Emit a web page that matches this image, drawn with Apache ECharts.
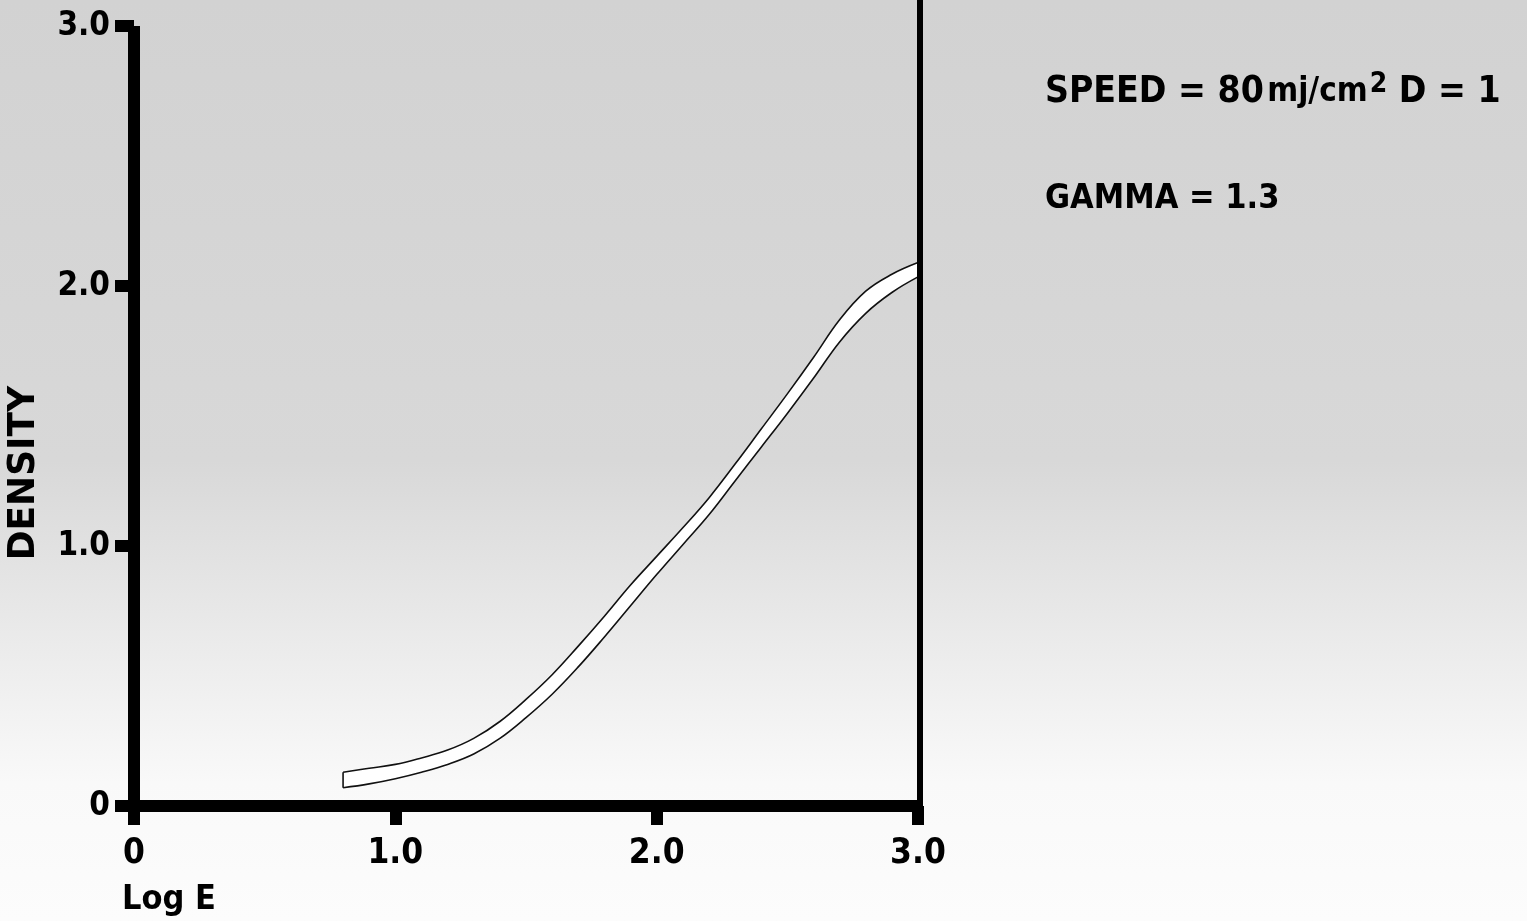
<!DOCTYPE html>
<html>
<head>
<meta charset="utf-8">
<script src="https://cdn.jsdelivr.net/npm/echarts@6/dist/echarts.min.js"></script>
<style>html,body{margin:0;padding:0;background:#fff}#c{width:1527px;height:921px}</style>
</head>
<body>
<div id="c"></div>
<script>
// ---- data ----
const logE = [0.8, 0.9, 1.0, 1.1, 1.2, 1.3, 1.4, 1.5, 1.6, 1.7, 1.8, 1.9, 2.0, 2.1, 2.2, 2.3, 2.4, 2.5, 2.6, 2.7, 2.8, 2.9, 3.0];
const densityUpper = [0.13, 0.145, 0.16, 0.185, 0.215, 0.26, 0.325, 0.41, 0.505, 0.615, 0.73, 0.85, 0.96, 1.07, 1.185, 1.315, 1.45, 1.585, 1.725, 1.87, 1.98, 2.045, 2.09];
const densityLower = [0.07, 0.085, 0.105, 0.13, 0.16, 0.20, 0.26, 0.34, 0.43, 0.535, 0.65, 0.77, 0.89, 1.005, 1.12, 1.25, 1.38, 1.51, 1.645, 1.785, 1.895, 1.975, 2.035];
const xTickLabels = ['0', '1.0', '2.0', '3.0'];
const yTickLabels = ['0', '1.0', '2.0', '3.0'];
const yTitle = 'DENSITY';
const xTitle = 'Log E';
const noteSpeed = 'SPEED = 80';
const noteUnit = 'mj/cm';
const noteExp = '2';
const noteD = 'D = 1';
const noteGamma = 'GAMMA = 1.3';

const FONT = "'DejaVu Sans Condensed', 'Liberation Sans Narrow', sans-serif";
const bgStops = [
  {offset: 0, color: '#d2d2d2'},
  {offset: 0.5, color: '#d8d8d8'},
  {offset: 0.72, color: '#ededed'},
  {offset: 0.85, color: '#f9f9f9'},
  {offset: 1, color: '#fcfcfc'}
];

const upperPts = logE.map((x, i) => [x, densityUpper[i]]);
const lowerPts = logE.map((x, i) => [x, densityLower[i]]);
const capPts = [[logE[0], densityLower[0]], [logE[0], densityUpper[0]]];

const chart = echarts.init(document.getElementById('c'), null, {renderer: 'canvas'});
const option = {
  animation: false,
  backgroundColor: {type: 'linear', x: 0, y: 0, x2: 0, y2: 1, colorStops: bgStops},
  grid: [
    {left: 134, right: 609, top: 26, bottom: 115},
    {left: 134, right: 607, top: 0, bottom: 115}
  ],
  xAxis: [
    {
      type: 'value', gridIndex: 0, min: 0, max: 3, interval: 1, z: 10,
      axisLine: {show: true, onZero: false, lineStyle: {color: '#000', width: 12, cap: 'butt'}},
      axisTick: {show: true, length: 19, lineStyle: {color: '#000', width: 12}},
      splitLine: {show: false},
      axisLabel: {
        margin: 30, color: '#000', fontFamily: FONT, fontWeight: 'bold', fontSize: 35,
        formatter: v => xTickLabels[Math.round(v)]
      }
    },
    {type: 'value', gridIndex: 1, min: 0, max: 3, show: false}
  ],
  yAxis: [
    {
      type: 'value', gridIndex: 0, min: 0, max: 3, interval: 1, z: 10,
      axisLine: {show: true, onZero: false, lineStyle: {color: '#000', width: 12, cap: 'butt'}},
      axisTick: {show: true, length: 19, lineStyle: {color: '#000', width: 12}},
      splitLine: {show: false},
      axisLabel: {
        margin: 24, color: '#000', fontFamily: FONT, fontWeight: 'bold', fontSize: 33,
        formatter: v => yTickLabels[Math.round(v)]
      }
    },
    {
      type: 'value', gridIndex: 1, position: 'right', min: 0, max: 1, z: 10,
      axisLine: {show: true, onZero: false, lineStyle: {color: '#000', width: 6}},
      axisTick: {show: false}, axisLabel: {show: false}, splitLine: {show: false}
    }
  ],
  series: [
    {
      type: 'line', name: 'upper', data: upperPts, smooth: 0.4, symbol: 'none',
      lineStyle: {color: '#111', width: 1.6},
      areaStyle: {color: '#ffffff', opacity: 1}, z: 2
    },
    {
      type: 'line', name: 'lower', data: lowerPts, smooth: 0.4, symbol: 'none',
      lineStyle: {color: '#111', width: 1.6},
      areaStyle: {
        opacity: 1,
        color: {type: 'linear', x: 0, y: 0, x2: 0, y2: 921, global: true, colorStops: bgStops}
      }, z: 3
    },
    {
      type: 'line', name: 'cap', data: capPts, symbol: 'none',
      lineStyle: {color: '#111', width: 1.6}, z: 4
    }
  ],
  graphic: [
    {
      type: 'text', left: 6, top: 386, rotation: Math.PI / 2, scaleX: 1.08,
      style: {text: yTitle, fill: '#000', font: 'bold 37px ' + FONT}
    },
    {
      type: 'text', left: 122, top: 883,
      style: {text: xTitle, fill: '#000', font: 'bold 34px ' + FONT}
    },
    {
      type: 'text', left: 1045, top: 71,
      style: {
        text: '{a|' + noteSpeed + '} {b|' + noteUnit + '}{s|' + noteExp + '}{a| ' + noteD + '}',
        rich: {
          a: {fill: '#000', fontFamily: FONT, fontWeight: 'bold', fontSize: 37},
          b: {fill: '#000', fontFamily: FONT, fontWeight: 'bold', fontSize: 33},
          s: {fill: '#000', fontFamily: FONT, fontWeight: 'bold', fontSize: 28, verticalAlign: 'top', padding: [0, 0, 14, 2]}
        }
      }
    },
    {
      type: 'text', left: 1045, top: 182,
      style: {text: noteGamma, fill: '#000', font: 'bold 34px ' + FONT}
    }
  ]
};
chart.setOption(option);
</script>
</body>
</html>
